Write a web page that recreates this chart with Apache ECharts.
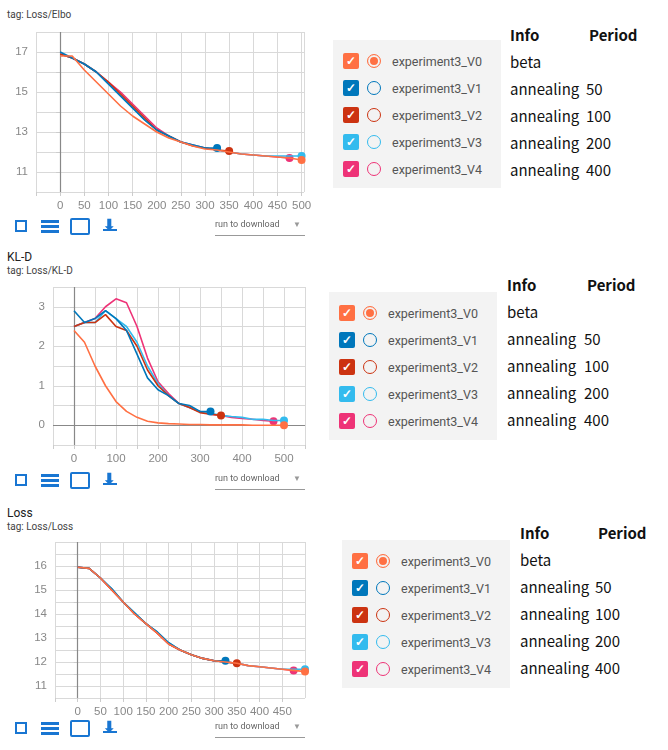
<!DOCTYPE html>
<html>
<head>
<meta charset="utf-8">
<script src="https://cdn.jsdelivr.net/npm/echarts@6/dist/echarts.min.js"></script>
<style>
  body { margin: 0; width: 668px; height: 750px; background: #fff; position: relative; overflow: hidden; font-family: Roboto, "Noto Sans", sans-serif; }
  .abs { position: absolute; }
  .title { font-size: 12px; color: #212121; }
  .tag { font-size: 10px; color: #424242; }
  .chart { position: absolute; }
  .legend { position: absolute; background: #f3f3f3; width: 168px; height: 148px; }
  .row { position: absolute; left: 10px; height: 18px; display: flex; align-items: center; font-size: 12.5px; color: #555; }
  .cb { width: 16px; height: 16px; border-radius: 2px; color: #fff; font-size: 12px; line-height: 16px; text-align: center; font-weight: bold; }
  .rad { width: 14px; height: 14px; border-radius: 50%; border: 1.5px solid; margin: 0 11px 0 8px; box-sizing: border-box; position: relative; }
  .info { position: absolute; font-family: "Noto Sans CJK KR", "Noto Sans", sans-serif; font-size: 15px; color: #111; }
  .info b { position: absolute; font-size: 15px; white-space: nowrap; }
  .info span { position: absolute; white-space: nowrap; }
  .icons { position: absolute; height: 18px; }
  .ic { position: absolute; top: 2px; width: 14px; height: 13px; box-sizing: border-box; }
  .dl { position: absolute; font-size: 9px; color: #666; border-bottom: 1px solid #999; width: 90px; height: 16px; }
  .dl::after { content: "▼"; position: absolute; right: 4px; top: 1px; font-size: 8px; color: #999; }
</style>
</head>
<body>
<div class="abs tag" style="left:7px;top:9px">tag: Loss/Elbo</div>
<div class="abs title" style="left:7px;top:250px">KL-D</div>
<div class="abs tag" style="left:7px;top:265px">tag: Loss/KL-D</div>
<div class="abs title" style="left:7px;top:506px">Loss</div>
<div class="abs tag" style="left:7px;top:521px">tag: Loss/Loss</div>

<div id="c1" class="chart" style="left:0;top:20px;width:320px;height:200px"></div>
<div id="c2" class="chart" style="left:0;top:277px;width:320px;height:196px"></div>
<div id="c3" class="chart" style="left:0;top:532px;width:320px;height:192px"></div>

<script>
// steps shared by all series (every 25)
var steps = [0, 25, 50, 75, 100, 125, 150, 175, 200, 225, 250, 275, 300, 325, 350, 375, 400, 425, 450, 475, 500];

var runNames = ['experiment3_V0', 'experiment3_V1', 'experiment3_V2', 'experiment3_V3', 'experiment3_V4'];
var runColors = ['#ff7043', '#0077bb', '#cc3311', '#33bbee', '#ee3377'];
var infoLabels = ['beta', 'annealing', 'annealing', 'annealing', 'annealing'];
var periods = ['', '50', '100', '200', '400'];

// Loss/Elbo
var elboV0 = [16.8, 16.8, 16.1, 15.5, 14.9, 14.3, 13.8, 13.4, 13.0, 12.7, 12.5, 12.3, 12.15, 12.1, 12.0, 11.9, 11.85, 11.8, 11.75, 11.7, 11.6];
var elboV1 = [17.0, 16.7, 16.4, 16.0, 15.4, 14.8, 14.2, 13.6, 13.1, 12.8, 12.5, 12.35, 12.2, 12.2];
var elboV2 = [16.9, 16.7, 16.4, 16.0, 15.5, 14.9, 14.3, 13.7, 13.1, 12.8, 12.5, 12.3, 12.2, 12.1, 12.05];
var elboV3 = [16.9, 16.7, 16.4, 16.0, 15.4, 14.8, 14.2, 13.6, 13.1, 12.8, 12.5, 12.35, 12.2, 12.1, 12.0, 11.9, 11.85, 11.8, 11.8, 11.8, 11.8];
var elboV4 = [16.9, 16.7, 16.4, 16.0, 15.5, 15.0, 14.4, 13.8, 13.2, 12.8, 12.5, 12.35, 12.2, 12.1, 12.0, 11.9, 11.85, 11.8, 11.75, 11.7];

// Loss/KL-D
var klV0 = [2.4, 2.1, 1.5, 1.0, 0.6, 0.35, 0.2, 0.1, 0.06, 0.04, 0.03, 0.02, 0.02, 0.01, 0.01, 0.01, 0.01, 0.0, 0.0, 0.0, 0.0];
var klV1 = [2.9, 2.6, 2.7, 2.9, 2.7, 2.4, 1.8, 1.2, 0.9, 0.75, 0.55, 0.5, 0.35, 0.35];
var klV2 = [2.5, 2.6, 2.6, 2.8, 2.5, 2.4, 2.0, 1.4, 1.0, 0.75, 0.55, 0.45, 0.32, 0.28, 0.25];
var klV3 = [2.5, 2.6, 2.6, 2.9, 2.7, 2.5, 2.1, 1.5, 1.05, 0.75, 0.55, 0.45, 0.35, 0.3, 0.25, 0.22, 0.2, 0.15, 0.15, 0.12, 0.12];
var klV4 = [2.5, 2.6, 2.7, 3.0, 3.2, 3.1, 2.5, 1.7, 1.1, 0.8, 0.55, 0.45, 0.35, 0.28, 0.25, 0.2, 0.17, 0.15, 0.12, 0.1];

// Loss/Loss
var lossV0 = [15.95, 15.9, 15.5, 15.0, 14.5, 14.0, 13.6, 13.2, 12.75, 12.5, 12.3, 12.15, 12.05, 12.0, 11.95, 11.85, 11.8, 11.75, 11.7, 11.65, 11.6];
var lossV1 = [15.95, 15.9, 15.5, 15.05, 14.5, 14.05, 13.6, 13.25, 12.8, 12.5, 12.3, 12.15, 12.05, 12.05];
var lossV2 = [15.95, 15.9, 15.5, 15.0, 14.5, 14.0, 13.6, 13.2, 12.75, 12.5, 12.3, 12.15, 12.05, 12.0, 11.95];
var lossV3 = [15.95, 15.9, 15.5, 15.05, 14.5, 14.05, 13.6, 13.25, 12.8, 12.5, 12.3, 12.15, 12.05, 12.0, 11.95, 11.85, 11.8, 11.75, 11.7, 11.7, 11.7];
var lossV4 = [15.95, 15.9, 15.5, 15.0, 14.5, 14.0, 13.6, 13.2, 12.75, 12.5, 12.3, 12.15, 12.05, 12.0, 11.95, 11.85, 11.8, 11.75, 11.7, 11.65];

function makeChart(id, runs, grid, xr, yr, yLabelEvery) {
    var chart = echarts.init(document.getElementById(id));
    var series = [];
    // draw V0 last so it sits on top, like the reference
    [4, 3, 2, 1, 0].forEach(function (i) {
        var vals = runs[i];
        series.push({
            name: runNames[i],
            type: 'line',
            data: vals.map(function (v, k) { return [steps[k], v]; }),
            showSymbol: true,
            symbol: 'circle',
            symbolSize: function (v, p) { return p.dataIndex === vals.length - 1 ? 8 : 0; },
            lineStyle: { color: runColors[i], width: 1.6 },
            itemStyle: { color: runColors[i] },
            z: 10 - i,
            silent: true,
            animation: false
        });
    });
    var gl = { show: true, lineStyle: { color: '#d9d9d9' } };
    chart.setOption({
        grid: grid,
        xAxis: {
            type: 'value', min: xr[0], max: xr[1], interval: 50,
            axisLine: { onZero: false, show: false },
            axisTick: { show: true, length: 4, lineStyle: { color: '#ccc' } },
            splitLine: gl,
            axisLabel: {
                color: '#888', fontSize: 11.5, showMaxLabel: xr[3],
                formatter: function (v) { return (v < 0 || v % xr[2] !== 0) ? '' : v; }
            }
        },
        yAxis: {
            type: 'value', min: yr[0], max: yr[1], interval: yr[2],
            axisLine: { show: false },
            axisTick: { show: true, length: 4, lineStyle: { color: '#ccc' } },
            splitLine: gl,
            axisLabel: {
                color: '#888', fontSize: 11.5, showMaxLabel: false, showMinLabel: false,
                formatter: function (v) { return (Math.abs(v % yLabelEvery[0] - yLabelEvery[1]) < 1e-6) ? v : ''; }
            }
        },
        series: series.concat([{
            type: 'line', data: [], silent: true,
            markLine: {
                symbol: 'none', silent: true, animation: false, label: { show: false },
                lineStyle: { color: '#888', type: 'solid', width: 1.2 },
                data: yr[3] ? [{ xAxis: 0 }, { yAxis: 0 }] : [{ xAxis: 0 }]
            }
        }])
    });
}

makeChart('c1', [elboV0, elboV1, elboV2, elboV3, elboV4],
    { left: 36, right: 16, top: 12, bottom: 28 }, [-50, 505, 50, false], [10, 18, 1, false], [2, 1]);
makeChart('c2', [klV0, klV1, klV2, klV3, klV4],
    { left: 53, right: 15, top: 10, bottom: 28 }, [-50, 550, 100, true], [-0.5, 3.5, 0.5, true], [1, 0]);
makeChart('c3', [lossV0, lossV1, lossV2, lossV3, lossV4],
    { left: 55, right: 15, top: 10, bottom: 26 }, [-50, 500, 50, false], [10.5, 17, 0.5, false], [1, 0]);

// legends, info tables and toolbar
function addPanel(lx, ly, ix, iy, px, toolY) {
    var lg = document.createElement('div');
    lg.className = 'legend';
    lg.style.left = lx + 'px'; lg.style.top = ly + 'px';
    runNames.forEach(function (n, i) {
        var r = document.createElement('div');
        r.className = 'row';
        r.style.top = (12 + i * 27) + 'px';
        r.innerHTML = '<div class="cb" style="background:' + runColors[i] + '">✓</div>' +
            '<div class="rad" style="border-color:' + runColors[i] + '"></div>' + n;
        if (i === 0) {
            r.querySelector('.rad').style.boxShadow = 'inset 0 0 0 2px #f3f3f3, inset 0 0 0 6px ' + runColors[0];
        }
        lg.appendChild(r);
    });
    document.body.appendChild(lg);
    var inf = document.createElement('div');
    inf.className = 'info';
    inf.style.left = ix + 'px'; inf.style.top = iy + 'px';
    var h = '<b style="left:0;top:0">Info</b><b style="left:' + px + 'px;top:0">Period</b>';
    infoLabels.forEach(function (t, i) {
        h += '<span style="left:0;top:' + (27 * (i + 1)) + 'px">' + t + '</span>';
        h += '<span style="left:' + (px - 3) + 'px;top:' + (27 * (i + 1)) + 'px">' + periods[i] + '</span>';
    });
    inf.innerHTML = h;
    document.body.appendChild(inf);
    var tb = document.createElement('div');
    tb.className = 'icons';
    tb.style.left = '15px'; tb.style.top = toolY + 'px';
    tb.innerHTML =
        '<div class="ic" style="left:0;border:2px dashed #1976d2;width:12px;height:12px"></div>' +
        '<div class="ic" style="left:26px;width:18px;border-top:3px solid #1976d2;border-bottom:3px solid #1976d2;height:13px"><div style="border-top:3px solid #1976d2;margin-top:2px"></div></div>' +
        '<div class="ic" style="left:55px;top:0;width:20px;height:17px;border:2px solid #1976d2;border-radius:2px"></div>' +
        '<div class="ic" style="left:88px;top:0;color:#1976d2;font-size:15px;font-weight:bold;line-height:15px;border-bottom:2px solid #1976d2">⬇</div>';
    document.body.appendChild(tb);
    var dl = document.createElement('div');
    dl.className = 'dl';
    dl.style.left = '215px'; dl.style.top = (toolY + 1) + 'px';
    dl.textContent = 'run to download';
    document.body.appendChild(dl);
}
addPanel(333, 40, 510, 24, 79, 218);
addPanel(329, 292, 507, 274, 80, 472);
addPanel(342, 540, 520, 522, 78, 720);
</script>
</body>
</html>
